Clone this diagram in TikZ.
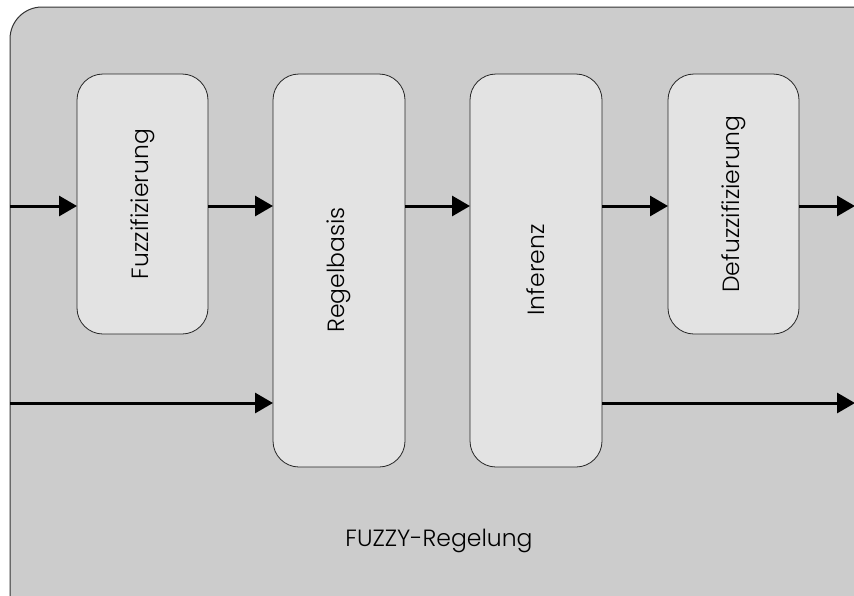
\documentclass[tikz,border=0pt]{standalone}
\usepackage{fontspec}
\setmainfont{Poppins Light}
\usetikzlibrary{arrows.meta}
\definecolor{outerfill}{HTML}{CCCCCC}
\definecolor{boxfill}{HTML}{E3E3E3}
\begin{document}
\begin{tikzpicture}[x=1pt,y=-1pt,
  blk/.style={draw=black!85, line width=0.8pt, fill=boxfill, rounded corners=26pt},
  lbl/.style={font=\fontsize{23.5}{28}\selectfont, rotate=90},
  flow/.style={line width=3pt, -{Triangle[length=18pt,width=20pt]}}]
\useasboundingbox (0,0) rectangle (854,595);
\begin{scope}
\clip (0,0) rectangle (854,595);
\draw[draw=black!80, line width=1pt, fill=outerfill, rounded corners=32pt] (10,7) rectangle (884,625);
\end{scope}
\draw[blk] (77,74) rectangle (208,334);
\draw[blk] (273,74) rectangle (405,467);
\draw[blk] (470,74) rectangle (602,467);
\draw[blk] (668,74) rectangle (799,334);
\node[lbl] (fuz) at (142.5,204) {Fuzzifizierung};
\node[lbl] (reg) at (339,270) {Regelbasis};
\node[lbl] (inf) at (536,270) {Inferenz};
\node[lbl] (def) at (733.5,204) {Defuzzifizierung};
\coordinate (in1) at (10,206);
\coordinate (in2) at (10,403);
\coordinate (out1) at (855,206);
\coordinate (out2) at (855,403);
\coordinate (fl) at (77,206); \coordinate (fr) at (208,206);
\coordinate (rl) at (273,206); \coordinate (rl2) at (273,403);
\coordinate (rr) at (405,206);
\coordinate (il) at (470,206); \coordinate (ir) at (602,206); \coordinate (ir2) at (602,403);
\coordinate (dl) at (668,206); \coordinate (dr) at (799,206);
\draw[flow] (in1) -- (fl);
\draw[flow] (fr) -- (rl);
\draw[flow] (rr) -- (il);
\draw[flow] (ir) -- (dl);
\draw[flow] (dr) -- (out1);
\draw[flow] (in2) -- (rl2);
\draw[flow] (ir2) -- (out2);
\node[font=\fontsize{23.5}{28}\selectfont] (title) at (439,541) {FUZZY-Regelung};
\end{tikzpicture}
\end{document}
